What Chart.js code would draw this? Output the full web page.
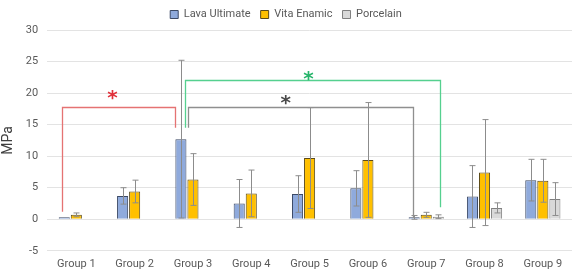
<!DOCTYPE html>
<html>
<head>
<meta charset="utf-8">
<script src="https://cdn.jsdelivr.net/npm/chart.js@4/dist/chart.umd.min.js"></script>
<style>
  html, body { margin: 0; padding: 0; background: #fff; }
  #wrap { width: 577px; height: 273px; }
</style>
</head>
<body>
<div id="wrap"><canvas id="mpaChart"></canvas></div>
<script>
// data
const groups = ["Group 1", "Group 2", "Group 3", "Group 4", "Group 5", "Group 6", "Group 7", "Group 8", "Group 9"];
const lavaMean = [0.3, 3.7, 12.7, 2.5, 4.0, 4.9, 0.3, 3.6, 6.2];
const lavaSd = [0, 1.3, 12.5, 3.8, 2.9, 2.8, 0.3, 4.9, 3.3];
const vitaMean = [0.7, 4.4, 6.3, 4.1, 9.7, 9.4, 0.7, 7.4, 6.1];
const vitaSd = [0.3, 1.8, 4.1, 3.7, 8.0, 9.1, 0.4, 8.4, 3.4];
const porcMean = [null, null, null, null, null, null, 0.4, 1.8, 3.2];
const porcSd = [null, null, null, null, null, null, 0.3, 0.8, 2.6];
const yTicks = [-5, 0, 5, 10, 15, 20, 25, 30];

// significance brackets: [xStart, yStart, yTop, xEnd, yEnd] (x in category units)
const redBracket = [-0.24, 1.2, 17.8, 1.70, 14.5];
const greenBracket = [1.86, 14.5, 22.0, 6.24, 1.9];
const grayBracket = [1.91, 14.5, 17.8, 5.78, 0.2];
const starSpots = [[0.62, 19.8], [3.98, 22.8], [3.59, 19.0]];

const FONT = "Roboto, 'Liberation Sans', Arial, sans-serif";

const errorBars = {
  id: "errorBars",
  afterDatasetsDraw(chart) {
    const ctx = chart.ctx;
    const y = chart.scales.y;
    const sds = [lavaSd, vitaSd, porcSd];
    ctx.save();
    ctx.strokeStyle = "#8c8c8c";
    ctx.lineWidth = 1;
    chart.data.datasets.forEach((ds, di) => {
      const meta = chart.getDatasetMeta(di);
      meta.data.forEach((bar, i) => {
        const v = ds.data[i];
        const e = sds[di][i];
        if (v == null || !e) return;
        const x = Math.round(bar.x) + 0.5;
        const yt = y.getPixelForValue(v + e);
        const yb = y.getPixelForValue(v - e);
        ctx.beginPath();
        ctx.moveTo(x, yt); ctx.lineTo(x, yb);
        ctx.moveTo(x - 3, yt); ctx.lineTo(x + 3, yt);
        ctx.moveTo(x - 3, yb); ctx.lineTo(x + 3, yb);
        ctx.stroke();
      });
    });
    ctx.restore();
  }
};

const brackets = {
  id: "brackets",
  afterDatasetsDraw(chart) {
    const ctx = chart.ctx;
    const xs = chart.scales.x, ys = chart.scales.y;
    const step = xs.getPixelForValue(1) - xs.getPixelForValue(0);
    const px = (c) => xs.getPixelForValue(0) + c * step;
    const drawOne = (b, color) => {
      ctx.beginPath();
      ctx.moveTo(Math.round(px(b[0])) + 0.5, ys.getPixelForValue(b[1]));
      ctx.lineTo(Math.round(px(b[0])) + 0.5, Math.round(ys.getPixelForValue(b[2])) + 0.5);
      ctx.lineTo(Math.round(px(b[3])) + 0.5, Math.round(ys.getPixelForValue(b[2])) + 0.5);
      ctx.lineTo(Math.round(px(b[3])) + 0.5, ys.getPixelForValue(b[4]));
      ctx.strokeStyle = color;
      ctx.lineWidth = 1.3;
      ctx.stroke();
    };
    ctx.save();
    drawOne(redBracket, "#e57373");
    drawOne(greenBracket, "#55d08f");
    drawOne(grayBracket, "#8f8f8f");
    const starColors = ["#e0303a", "#27b56b", "#4a4a4a"];
    ctx.font = "bold 20px 'DejaVu Sans', sans-serif";
    ctx.textAlign = "center";
    ctx.textBaseline = "middle";
    starSpots.forEach((s, i) => {
      ctx.fillStyle = starColors[i];
      ctx.fillText("*", px(s[0]), ys.getPixelForValue(s[1]) + 4);
    });
    ctx.restore();
  }
};

new Chart(document.getElementById("mpaChart").getContext("2d"), {
  type: "bar",
  data: {
    labels: groups,
    datasets: [
      {
        label: "Lava Ultimate",
        data: lavaMean,
        backgroundColor: "#8faadc",
        borderColor: "#3c4a66",
        borderWidth: 1,
      },
      {
        label: "Vita Enamic",
        data: vitaMean,
        backgroundColor: "#ffc000",
        borderColor: "#5a4a1a",
        borderWidth: 1,
      },
      {
        label: "Porcelain",
        data: porcMean,
        backgroundColor: "#d9d9d9",
        borderColor: "#7f7f7f",
        borderWidth: 1,
      },
    ],
  },
  options: {
    responsive: true,
    maintainAspectRatio: false,
    animation: false,
    layout: { padding: { top: -1, right: 5, bottom: -5, left: 0 } },
    datasets: { bar: { categoryPercentage: 0.62, barPercentage: 0.92 } },
    scales: {
      x: {
        grid: { display: false, drawTicks: false },
        border: { display: false },
        ticks: { color: "#595959", font: { family: FONT, size: 11 }, padding: 7 },
      },
      y: {
        min: -5,
        max: 30,
        afterBuildTicks: (axis) => { axis.ticks = yTicks.map((v) => ({ value: v })); },
        grid: { color: "#e3e3e3", drawTicks: false },
        border: { display: false },
        ticks: { color: "#595959", font: { family: FONT, size: 11 }, padding: 9 },
        title: { display: true, text: "MPa", color: "#404040", font: { family: FONT, size: 14 }, padding: 0 },
      },
    },
    plugins: {
      legend: {
        position: "top",
        labels: {
          boxWidth: 8,
          boxHeight: 8,
          color: "#595959",
          font: { family: FONT, size: 11 },
          padding: 10,
        },
      },
      tooltip: { enabled: false },
    },
  },
  plugins: [errorBars, brackets],
});
</script>
</body>
</html>
